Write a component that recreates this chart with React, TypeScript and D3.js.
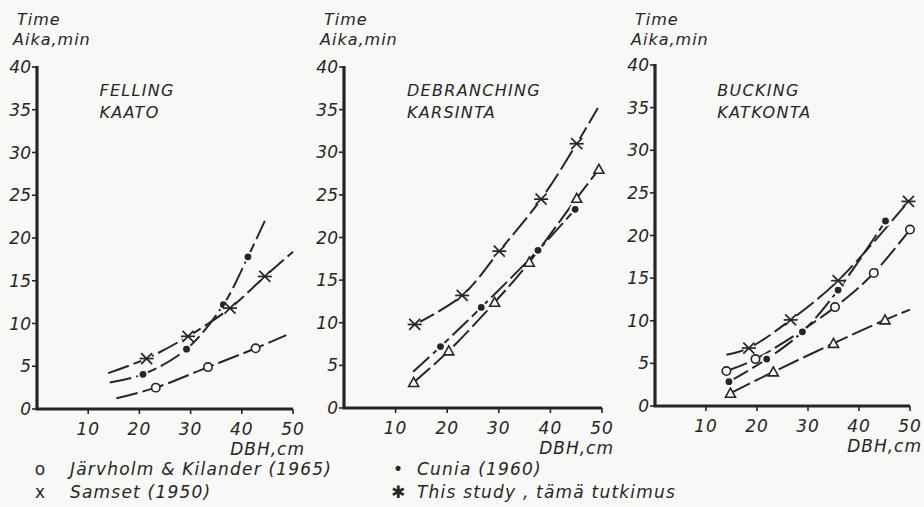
import * as d3 from 'd3';
import React from 'react';

// DBH (cm) vs time (min); third value = 1 where the curve carries a marker
const fellingJarvholm = [[15.5, 1.25, 0], [23.2, 2.5, 1], [33.4, 4.9, 1], [42.7, 7.1, 1], [48.7, 8.65, 0]];
const fellingCunia = [[14.2, 3.1, 0], [20.7, 4.05, 1], [29.2, 7.0, 1], [36.4, 12.2, 1], [41.2, 17.8, 1], [44.5, 22, 0]];
const fellingStudy = [[13.9, 4.2, 0], [21.4, 5.9, 1], [29.5, 8.5, 1], [37.7, 11.8, 1], [44.5, 15.5, 1], [50, 18.4, 0]];

const debranchStudy = [[13.7, 9.8, 1], [22.9, 13.2, 1], [30.1, 18.4, 1], [38.2, 24.5, 1], [45.1, 31.0, 1], [49.2, 35.2, 0]];
const debranchCunia = [[13.4, 4.25, 0], [18.7, 7.2, 1], [26.6, 11.8, 1], [37.6, 18.5, 1], [44.8, 23.3, 1]];
const debranchSamset = [[13.5, 3.0, 1], [20.3, 6.7, 1], [29.2, 12.4, 1], [35.9, 17.1, 1], [45.1, 24.6, 1], [49.4, 28.0, 1]];

const buckingStudy = [[14, 6.0, 0], [18.4, 6.8, 1], [26.6, 10.1, 1], [35.9, 14.7, 1], [49.7, 24.0, 1]];
const buckingJarvholm = [[14.0, 4.1, 1], [19.7, 5.5, 1], [35.3, 11.6, 1], [42.9, 15.6, 1], [50, 20.7, 1]];
const buckingCunia = [[14.5, 2.85, 1], [21.9, 5.5, 1], [28.9, 8.7, 1], [35.9, 13.6, 1], [45.2, 21.7, 1]];
const buckingSamset = [[14.8, 1.5, 1], [23.2, 4.0, 1], [35.0, 7.35, 1], [45.1, 10.1, 1], [50, 11.3, 0]];

const dbhTicks = [10, 20, 30, 40, 50];
const timeTicks = [0, 5, 10, 15, 20, 25, 30, 35, 40];
const panelTitles = [['FELLING', 'KAATO'], ['DEBRANCHING', 'KARSINTA'], ['BUCKING', 'KATKONTA']];
const legendLabels = ['Järvholm & Kilander (1965)', 'Samset (1950)', 'Cunia (1960)', 'This study , tämä tutkimus'];

const INK = '#262626';
const BG = '#f8f8f6';
const FONT = '"DejaVu Sans", sans-serif';

const frames = [
    { left: 37, right: 293, bottom: 409, top: 67 },
    { left: 344, right: 602, bottom: 408, top: 67 },
    { left: 655, right: 910, bottom: 406, top: 65 },
];

const panelSeries: any[] = [
    [{ pts: fellingJarvholm, mark: 'circle' }, { pts: fellingCunia, mark: 'dot' }, { pts: fellingStudy, mark: 'star' }],
    [{ pts: debranchCunia, mark: 'dot' }, { pts: debranchSamset, mark: 'tri' }, { pts: debranchStudy, mark: 'star' }],
    [{ pts: buckingSamset, mark: 'tri' }, { pts: buckingCunia, mark: 'dot' }, { pts: buckingJarvholm, mark: 'circle' }, { pts: buckingStudy, mark: 'star' }],
];

function Marker({ kind, x, y }: any) {
    if (kind === 'circle') {
        return <circle cx={x} cy={y} r={4.2} fill={BG} stroke={INK} strokeWidth={1.6} />;
    }
    if (kind === 'dot') {
        return (
            <g>
                <circle cx={x} cy={y} r={5.5} fill={BG} />
                <circle cx={x} cy={y} r={3.4} fill={INK} />
            </g>
        );
    }
    if (kind === 'tri') {
        const s = 5;
        return <path d={`M${x},${y - s}L${x + s},${y + s * 0.8}L${x - s},${y + s * 0.8}Z`} fill={BG} stroke={INK} strokeWidth={1.6} />;
    }
    const s = 5.5;
    return (
        <g stroke={INK} strokeWidth={1.7}>
            <circle cx={x} cy={y} r={6} fill={BG} stroke="none" />
            <line x1={x - s} y1={y - s} x2={x + s} y2={y + s} />
            <line x1={x - s} y1={y + s} x2={x + s} y2={y - s} />
            <line x1={x - s - 1.5} y1={y} x2={x + s + 1.5} y2={y} />
        </g>
    );
}

function Panel({ idx }: any) {
    const f = frames[idx];
    const x = d3.scaleLinear().domain([0, 50]).range([f.left, f.right]);
    const y = d3.scaleLinear().domain([0, 40]).range([f.bottom, f.top]);
    const line = d3.line<any>().x((d) => x(d[0])).y((d) => y(d[1])).curve(d3.curveCatmullRom.alpha(0.5));
    const [t1, t2] = panelTitles[idx];

    return (
        <g>
            <text x={f.left - 20} y={25} fontSize={16} fontStyle="italic" letterSpacing={1}>Time</text>
            <text x={f.left - 24} y={45} fontSize={16} fontStyle="italic" letterSpacing={1}>Aika,min</text>
            <text x={x(12.2)} y={96} fontSize={16} fontStyle="italic" letterSpacing={1.3}>{t1}</text>
            <text x={x(12.2)} y={118} fontSize={16} fontStyle="italic" letterSpacing={1.3}>{t2}</text>

            {panelSeries[idx].map((s: any, i: number) => (
                <path key={i} d={line(s.pts) || ''} fill="none" stroke={INK} strokeWidth={2} strokeDasharray="22 5" />
            ))}
            {panelSeries[idx].map((s: any, i: number) => (
                <g key={i}>
                    {s.pts.filter((p: any) => p[2]).map((p: any, j: number) => (
                        <Marker key={j} kind={s.mark} x={x(p[0])} y={y(p[1])} />
                    ))}
                </g>
            ))}

            <line x1={f.left} y1={y(40) - 1} x2={f.left} y2={f.bottom} stroke={INK} strokeWidth={3.2} />
            <line x1={f.left - 1.5} y1={f.bottom} x2={x(50)} y2={f.bottom} stroke={INK} strokeWidth={3.2} />
            {timeTicks.map((t) => (
                <g key={t}>
                    <line x1={f.left - 5} y1={y(t)} x2={f.left} y2={y(t)} stroke={INK} strokeWidth={1.6} />
                    <text x={f.left - 6} y={y(t) + 6} textAnchor="end" fontSize={17} fontStyle="italic">{t}</text>
                </g>
            ))}
            {dbhTicks.map((t) => (
                <g key={t}>
                    <line x1={x(t)} y1={f.bottom} x2={x(t)} y2={f.bottom + 5} stroke={INK} strokeWidth={1.6} />
                    <text x={x(t)} y={f.bottom + 26} textAnchor="middle" fontSize={17} fontStyle="italic" letterSpacing={1}>{t}</text>
                </g>
            ))}
            <text x={x(50) + 12} y={f.bottom + 46} textAnchor="end" fontSize={17} fontStyle="italic" letterSpacing={1}>DBH,cm</text>
        </g>
    );
}

export default function App() {
    const legendPos = [[40, 70, 475], [40, 70, 498], [398, 417, 475], [398, 417, 498]];
    const legendSym = ['o', 'x', '•', '✱'];
    return (
        <div style={{ position: 'fixed', left: 0, top: 0, width: 924, height: 507, background: BG }}>
            <svg width={924} height={507} style={{ display: 'block' }} fontFamily={FONT} fill={INK}>
                {frames.map((_, i) => <Panel key={i} idx={i} />)}
                {legendLabels.map((lab, i) => (
                    <g key={lab}>
                        <text x={legendPos[i][0]} y={legendPos[i][2]} textAnchor="middle" fontSize={17}>{legendSym[i]}</text>
                        <text x={legendPos[i][1]} y={legendPos[i][2]} fontSize={17} fontStyle="italic" letterSpacing={1.2}>{lab}</text>
                    </g>
                ))}
            </svg>
        </div>
    );
}
